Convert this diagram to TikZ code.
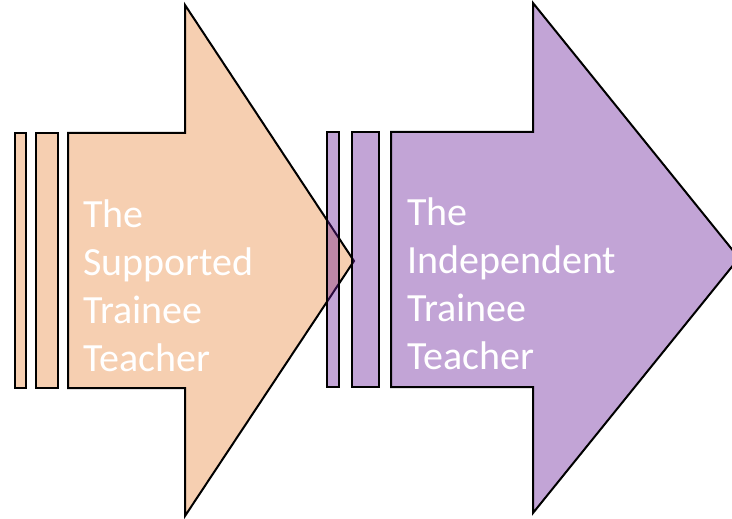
\documentclass[tikz,border=0pt]{standalone}
\usepackage{fontspec}
\setmainfont{Carlito}
\definecolor{peach}{RGB}{246,207,177}
\definecolor{deeppurple}{RGB}{102,27,152}
\tikzset{
  orangeshape/.style={fill=peach, draw=black, line width=2pt, line join=miter},
  purpleshape/.style={fill=deeppurple, fill opacity=0.4, draw=black, line width=2pt, line join=miter},
  label/.style={text=white, align=left, inner sep=0pt, font=\fontsize{40}{48}\selectfont}
}
\begin{document}
\begin{tikzpicture}[x=1pt,y=-1pt]
\clip (0,0) rectangle (732,519);
% orange striped arrow
\draw[orangeshape] (15,133) rectangle (26,388);
\draw[orangeshape] (36,133) rectangle (58,388);
\draw[orangeshape] (68,133) -- (185,133) -- (185,5) -- (354,261) -- (185,516) -- (185,388) -- (68,388) -- cycle;
\node[label, anchor=base west] (t1) at (83,371) {The\\Supported\\Trainee\\Teacher};
% purple striped arrow
\draw[purpleshape] (327,132) rectangle (339,387);
\draw[purpleshape] (352,132) rectangle (379,387);
\draw[purpleshape] (391,132) -- (533,132) -- (533,3) -- (739,258) -- (533,513) -- (533,387) -- (391,387) -- cycle;
\node[label, anchor=base west] (t2) at (407,369) {The\\Independent\\Trainee\\Teacher};
\end{tikzpicture}
\end{document}
